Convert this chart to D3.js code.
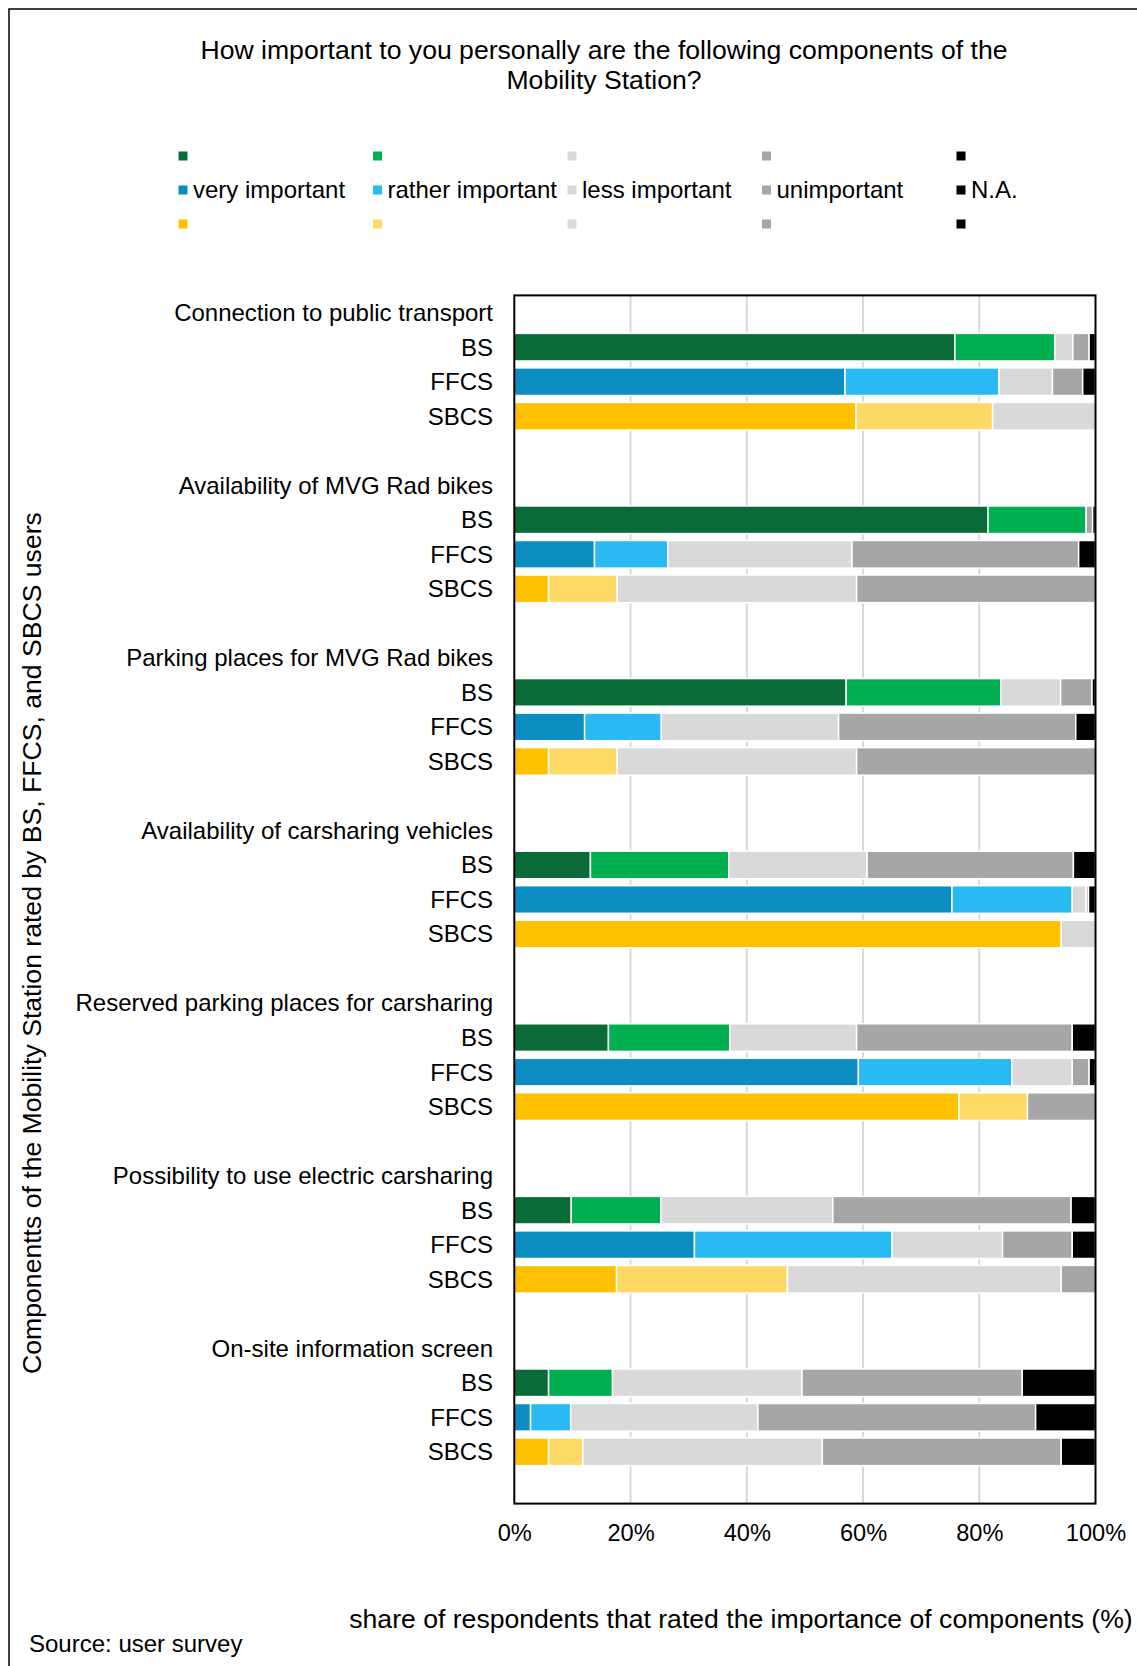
<!DOCTYPE html>
<html>
<head>
<meta charset="utf-8">
<script src="https://cdn.jsdelivr.net/npm/d3@7"></script>
<style>
  html, body { margin: 0; padding: 0; background: #fff; }
  svg { display: block; font-family: "Liberation Sans", Arial, sans-serif; }
</style>
</head>
<body>
<svg id="chart" width="1137" height="1666"></svg>
<script>
// Components of the Mobility Station, rated by each user group
const categories = [
  "Connection to public transport",
  "Availability of MVG Rad bikes",
  "Parking places for MVG Rad bikes",
  "Availability of carsharing vehicles",
  "Reserved parking places for carsharing",
  "Possibility to use electric carsharing",
  "On-site information screen"
];
const userGroups = ["BS", "FFCS", "SBCS"];
const ratings = ["very important", "rather important", "less important", "unimportant", "N.A."];

// shares (%) per component, in rating order
const bsValues = [
  [75.8, 17.2, 3.1, 2.8, 1.1],
  [81.5, 16.9, 0.0, 1.1, 0.5],
  [57.1, 26.6, 10.3, 5.4, 0.6],
  [13.1, 23.8, 23.8, 35.5, 3.8],
  [16.2, 20.9, 21.8, 37.1, 4.0],
  [9.8, 15.4, 29.6, 41.0, 4.2],
  [5.9, 11.0, 32.6, 37.9, 12.6]
];
const ffcsValues = [
  [56.9, 26.5, 9.2, 5.2, 2.2],
  [13.8, 12.6, 31.7, 39.0, 2.9],
  [12.1, 13.2, 30.5, 40.8, 3.4],
  [75.3, 20.7, 2.4, 0.4, 1.2],
  [59.2, 26.4, 10.4, 2.9, 1.1],
  [31.0, 34.0, 19.0, 12.0, 4.0],
  [2.8, 6.9, 32.2, 47.8, 10.3]
];
const sbcsValues = [
  [58.8, 23.5, 17.7, 0.0, 0.0],
  [5.9, 11.8, 41.2, 41.1, 0.0],
  [5.9, 11.8, 41.2, 41.1, 0.0],
  [94.1, 0.0, 5.9, 0.0, 0.0],
  [76.5, 11.8, 0.0, 11.7, 0.0],
  [17.6, 29.4, 47.1, 5.9, 0.0],
  [5.9, 5.9, 41.2, 41.1, 5.9]
];
const xTicks = [0, 20, 40, 60, 80, 100];

const palette = {
  BS:   ["#0a6b39", "#00b050", "#d9d9d9", "#a6a6a6", "#000000"],
  FFCS: ["#0b8dc2", "#29baf4", "#d9d9d9", "#a6a6a6", "#000000"],
  SBCS: ["#ffc000", "#ffd966", "#d9d9d9", "#a6a6a6", "#000000"]
};
const valuesByGroup = { BS: bsValues, FFCS: ffcsValues, SBCS: sbcsValues };

const svg = d3.select("#chart");
const FONT = 24;      // labels, legend, source
const TICK_FONT = 23.6;
const BIG_FONT = 26.6; // title and axis titles

// outer frame (runs off the right and bottom edge)
svg.append("rect")
  .attr("x", 9).attr("y", 9).attr("width", 1200).attr("height", 1700)
  .attr("fill", "none").attr("stroke", "#000").attr("stroke-width", 1.5);

// title
const title = svg.append("text")
  .attr("text-anchor", "middle").attr("font-size", BIG_FONT).attr("fill", "#000");
title.append("tspan").attr("x", 604).attr("y", 50).attr("dy", "0.35em")
  .text("How important to you personally are the following components of the");
title.append("tspan").attr("x", 604).attr("y", 80).attr("dy", "0.35em")
  .text("Mobility Station?");

// legend: one row of swatches per user group, labels in the middle row
const legendX = d3.scalePoint().domain(ratings).range([183, 961]);
const legendY = d3.scalePoint().domain(userGroups).range([156, 224]);
const legend = svg.append("g");
userGroups.forEach(g => {
  ratings.forEach((r, i) => {
    legend.append("rect")
      .attr("x", legendX(r) - 4.5).attr("y", legendY(g) - 4.5)
      .attr("width", 9).attr("height", 9)
      .attr("fill", palette[g][i]);
  });
});
ratings.forEach(r => {
  legend.append("text")
    .attr("x", legendX(r) + 10).attr("y", legendY("FFCS")).attr("dy", "0.35em")
    .attr("font-size", FONT).attr("fill", "#000").text(r);
});

// row layout: header row, three user-group rows and a spacer per component
const rows = [];
categories.forEach((c, ci) => {
  rows.push({ key: `h${ci}`, label: c, type: "header" });
  userGroups.forEach(g => rows.push({ key: `${g}${ci}`, label: g, type: "bar", group: g, ci }));
  rows.push({ key: `s${ci}`, label: "", type: "spacer" });
});

const plot = { left: 514.3, right: 1095.5, top: 295.4, bottom: 1503.6 };
const x = d3.scaleLinear().domain([0, 100]).range([plot.left, plot.right]);
const y = d3.scaleBand().domain(rows.map(r => r.key))
  .range([plot.top, plot.bottom]).paddingInner(0.2).paddingOuter(0.1);

// vertical gridlines
svg.append("g").selectAll("line")
  .data(xTicks.filter(t => t > 0 && t < 100))
  .join("line")
  .attr("x1", d => x(d)).attr("x2", d => x(d))
  .attr("y1", plot.top).attr("y2", plot.bottom)
  .attr("stroke", "#d9d9d9").attr("stroke-width", 2);

// stacked bars
const barRows = rows.filter(r => r.type === "bar");
const segs = [];
barRows.forEach(r => {
  const vals = valuesByGroup[r.group][r.ci];
  let acc = 0;
  vals.forEach((v, i) => {
    if (v > 0) segs.push({ row: r.key, x0: acc, x1: acc + v, color: palette[r.group][i] });
    acc += v;
  });
});
svg.append("g").selectAll("rect")
  .data(segs)
  .join("rect")
  .attr("x", d => x(d.x0))
  .attr("y", d => y(d.row))
  .attr("width", d => Math.max(0, x(d.x1) - x(d.x0)))
  .attr("height", y.bandwidth())
  .attr("fill", d => d.color)
  .attr("stroke", "#fff").attr("stroke-width", 1.5);

// plot frame
svg.append("rect")
  .attr("x", plot.left).attr("y", plot.top)
  .attr("width", plot.right - plot.left).attr("height", plot.bottom - plot.top)
  .attr("fill", "none").attr("stroke", "#000").attr("stroke-width", 2);

// row labels
svg.append("g").selectAll("text")
  .data(rows.filter(r => r.label))
  .join("text")
  .attr("x", 493)
  .attr("y", r => y(r.key) + y.bandwidth() / 2)
  .attr("dy", "0.35em")
  .attr("text-anchor", "end")
  .attr("font-size", FONT).attr("fill", "#000")
  .text(r => r.label);

// x axis tick labels
const xAxis = d3.axisBottom(x).tickValues(xTicks).tickFormat(d => d + "%").tickSize(0).tickPadding(0);
const ax = svg.append("g").attr("transform", `translate(0, ${1533})`).call(xAxis);
ax.select(".domain").remove();
ax.selectAll("text")
  .attr("y", 0).attr("dy", "0.35em")
  .attr("font-size", TICK_FONT).attr("fill", "#000")
  .attr("font-family", '"Liberation Sans", Arial, sans-serif');

// axis titles
svg.append("text")
  .attr("x", 741).attr("y", 1619).attr("dy", "0.35em")
  .attr("text-anchor", "middle").attr("font-size", BIG_FONT).attr("fill", "#000")
  .text("share of respondents that rated the importance of components (%)");

svg.append("text")
  .attr("transform", "translate(32, 943) rotate(-90)")
  .attr("dy", "0.35em")
  .attr("text-anchor", "middle").attr("font-size", BIG_FONT).attr("fill", "#000")
  .text("Componentts of the Mobility Station rated by BS, FFCS, and SBCS users");

// source note
svg.append("text")
  .attr("x", 29).attr("y", 1644).attr("dy", "0.35em")
  .attr("font-size", FONT).attr("fill", "#000")
  .text("Source: user survey");
</script>
</body>
</html>
